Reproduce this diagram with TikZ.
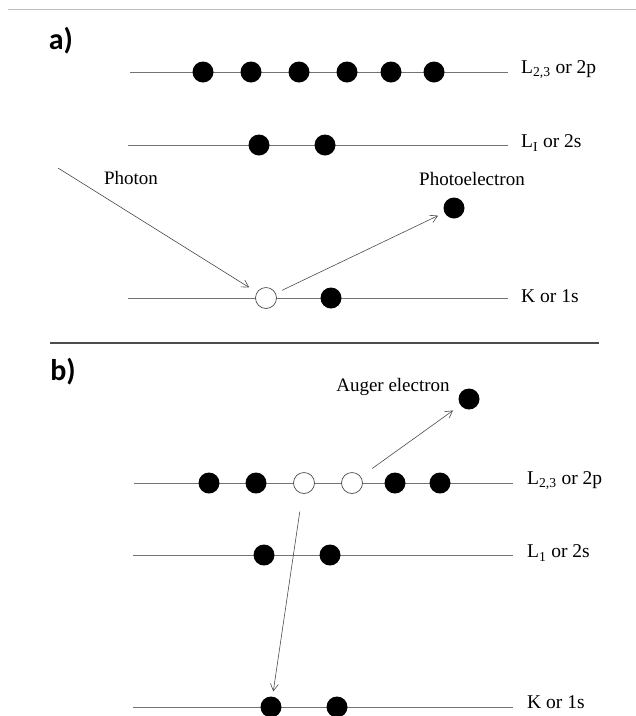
\documentclass[tikz,border=0pt]{standalone}
\usepackage{fontspec}
\setmainfont{Liberation Serif}
\newfontfamily\panelfont{Carlito}
\usetikzlibrary{positioning,arrows.meta}

\tikzset{
    level/.style={black!55, line width=0.6pt},
    edot/.style={circle, fill=black, inner sep=0pt, minimum size=21pt},
    hole/.style={circle, draw=black!70, fill=white, line width=0.7pt, inner sep=0pt, minimum size=21pt},
    lvlabel/.style={inner sep=0pt, yshift=2pt, font=\fontsize{19.5}{23}\selectfont},
    txt/.style={inner sep=0pt, font=\fontsize{19}{23}\selectfont},
    panel/.style={font=\panelfont\bfseries\fontsize{30}{34}\selectfont},
    jump/.style={black!70, line width=0.6pt, -{Straight Barb[length=7pt,width=8pt]}}
}

\begin{document}
\begin{tikzpicture}[x=1pt,y=-1pt]
    \useasboundingbox (0,0) rectangle (636,716);
    % Frame lines
    \draw[gray!50, line width=0.8pt] (8,9) -- (636,9);
    \draw[gray!60!black, line width=1.5pt] (50,343) -- (599,343);
    % Panel labels
    \node[panel] (pa) at (61,41) {a)};
    \node[panel] (pb) at (63,372) {b)};

    % ---- a) photoemission ----
    % Energy levels
    \draw[level] (130,72) -- (508,72) coordinate (a2p);
    \draw[level] (128,145) -- (508,145) coordinate (a2s);
    \draw[level] (128,298) -- (508,298) coordinate (a1s);
    \node[lvlabel, right=13pt of a2p] (a2pl) {L\textsubscript{2,3} or 2p};
    \node[lvlabel, right=13pt of a2s] (a2sl) {L\textsubscript{I} or 2s};
    \node[lvlabel, right=13pt of a1s] (a1sl) {K or 1s};
    % Electrons
    \foreach \x [count=\i] in {203,251,299,347,391,434}
        \node[edot] (a2p\i) at (\x,72) {};
    \foreach \x [count=\i] in {259,325}
        \node[edot] (a2s\i) at (\x,145) {};
    \node[hole] (a1s1) at (266,298) {};
    \node[edot] (a1s2) at (331,298) {};
    \node[edot] (aout) at (454,208) {};
    % Photon in, photoelectron out
    \coordinate (phin) at (58,168);
    \node[txt] (phl) at (131,178) {Photon};
    \node[txt] (pel) at (472,179) {Photoelectron};
    \draw[jump, shorten >=9pt] (phin) -- (a1s1);
    \draw[jump, shorten <=7pt, shorten >=7pt] (a1s1) -- (aout);

    % ---- b) Auger emission ----
    % Energy levels
    \draw[level] (134,483) -- (513,483) coordinate (b2p);
    \draw[level] (133,555) -- (513,555) coordinate (b2s);
    \draw[level] (133,707) -- (513,707) coordinate (b1s);
    \node[lvlabel, right=14pt of b2p] (b2pl) {L\textsubscript{2,3} or 2p};
    \node[lvlabel, right=14pt of b2s] (b2sl) {L\textsubscript{1} or 2s};
    \node[lvlabel, right=14pt of b1s, yshift=3pt] (b1sl) {K or 1s};
    % Electrons (two holes left in 2p)
    \foreach \x/\s [count=\i] in {209/edot,256/edot,304/hole,352/hole,395/edot,440/edot}
        \node[\s] (b2p\i) at (\x,483) {};
    \foreach \x [count=\i] in {264,330}
        \node[edot] (b2s\i) at (\x,555) {};
    \foreach \x [count=\i] in {271,337}
        \node[edot] (b1s\i) at (\x,707) {};
    \node[edot] (bout) at (469,399) {};
    \node[txt] (agl) at (393,387) {Auger electron};
    % Relaxation and Auger emission
    \draw[jump, shorten <=18pt, shorten >=5pt] (b2p3) -- (b1s1);
    \draw[jump, shorten <=14pt, shorten >=9pt] (b2p4) -- (bout);
\end{tikzpicture}
\end{document}
